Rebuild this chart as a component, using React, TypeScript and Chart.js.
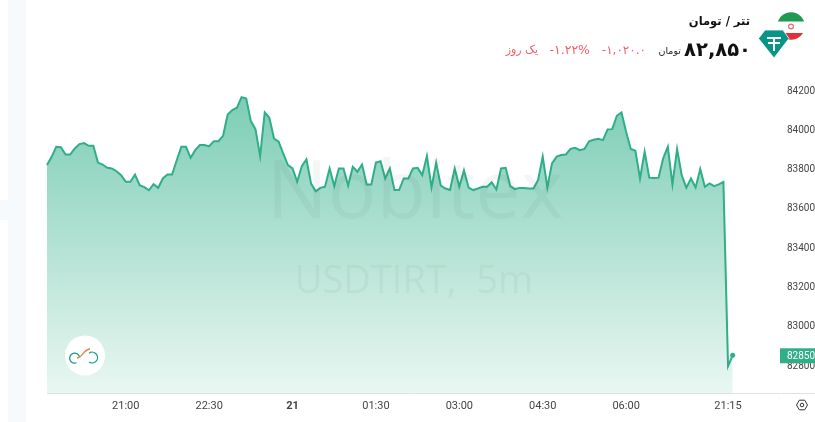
import React, { useEffect, useRef } from "react";
import { Chart, registerables } from "chart.js";

Chart.register(...registerables);

const prices = [
  83818, 83860, 83911, 83909, 83872, 83872, 83903, 83925, 83930, 83916, 83916, 83831, 83821, 83804, 83801, 83787,
  83767, 83733, 83733, 83770, 83716, 83706, 83690, 83721, 83702, 83750, 83770, 83770, 83843, 83911, 83911, 83855,
  83894, 83920, 83920, 83913, 83940, 83940, 83967, 84076, 84098, 84110, 84164, 84157, 84042, 84001, 83864, 84086,
  84059, 83953, 83937, 83877, 83818, 83801, 83733, 83813, 83848, 83724, 83685, 83702, 83708, 83801, 83711, 83801,
  83801, 83713, 83809, 83784, 83821, 83719, 83719, 83831, 83838, 83750, 83801, 83691, 83691, 83750, 83750, 83801,
  83804, 83767, 83864, 83704, 83830, 83713, 83699, 83691, 83801, 83708, 83792, 83704, 83691, 83699, 83708, 83708,
  83730, 83694, 83801, 83804, 83711, 83696, 83702, 83702, 83699, 83699, 83742, 83861, 83704, 83827, 83861, 83869,
  83872, 83901, 83906, 83894, 83900, 83939, 83947, 83952, 83945, 84000, 84001, 84069, 84086, 83988, 83900, 83891,
  83750, 83886, 83754, 83752, 83754, 83852, 83911, 83720, 83900, 83767, 83703, 83750, 83704, 83798, 83708, 83725,
  83711, 83720, 83733, 82795, 82850,
];
const slotCount = 159;
const timeLabels = ["21:00", "22:30", "21", "01:30", "03:00", "04:30", "06:00", "21:15"];
const timeSlots = [17, 35, 53, 71, 89, 107, 125, 147];
const priceTicks = [82800, 83000, 83200, 83400, 83600, 83800, 84000, 84200];
const lastPrice = 82850;
const titleText = "تتر / تومان";
const priceText = "۸۲,۸۵۰";
const unitText = "تومان";
const changeText = "-۱,۰۲۰.۰";
const percentText = "-۱.۲۲%";
const periodText = "یک روز";
const watermarkName = "Nobitex";
const watermarkSymbol = "USDTIRT,  5m";

const TEAL = "#2FAE87";
const RED = "#EF5F6B";
const FONT = "Roboto, 'Liberation Sans', sans-serif";
const WM_FONT = "'Open Sans', sans-serif";
const FA = "'DejaVu Sans', sans-serif";

const xLabels: string[] = Array.from({ length: slotCount }, () => "");
timeSlots.forEach((s, i) => { xLabels[s] = timeLabels[i]; });

const decorations = {
  id: "decorations",
  beforeDraw(chart: any) {
    const { ctx, height } = chart;
    ctx.save();
    ctx.fillStyle = "#F6FAFD";
    ctx.fillRect(8, 0, 18, height);
    ctx.fillRect(0, 200, 8, 20);
    ctx.restore();
  },
  afterDatasetsDraw(chart: any) {
    const { ctx, chartArea, scales } = chart;
    ctx.save();
    ctx.textAlign = "center";
    ctx.textBaseline = "alphabetic";
    ctx.fillStyle = "rgba(40,60,60,0.05)";
    ctx.font = `81px ${WM_FONT}`;
    ctx.fillText(watermarkName, 415, 218);
    ctx.font = `38px ${WM_FONT}`;
    ctx.fillText(watermarkSymbol, 414, 293);

    const data = chart.getDatasetMeta(0).data;
    const last = data[prices.length - 1];
    ctx.fillStyle = TEAL;
    ctx.beginPath();
    ctx.arc(last.x, last.y, 2.5, 0, Math.PI * 2);
    ctx.fill();

    const y = scales.y.getPixelForValue(lastPrice);
    ctx.fillStyle = TEAL;
    ctx.fillRect(chartArea.right + 1, y - 7, 36, 15);
    ctx.fillStyle = "#fff";
    ctx.font = `10px ${FONT}`;
    ctx.textAlign = "left";
    ctx.textBaseline = "middle";
    ctx.fillText(String(lastPrice), chartArea.right + 8, y + 1);

    ctx.strokeStyle = "#E0E0EA";
    ctx.lineWidth = 1;
    ctx.beginPath();
    ctx.moveTo(chartArea.right + 2, chartArea.bottom + 0.5);
    ctx.lineTo(815, chartArea.bottom + 0.5);
    ctx.stroke();
    ctx.restore();
  },
};

export default function App() {
  const ref = useRef<HTMLCanvasElement>(null);
  useEffect(() => {
    document.body.style.margin = "0";
    document.body.style.background = "#fff";
    const chart = new Chart(ref.current!, {
      type: "line",
      data: {
        labels: xLabels,
        datasets: [
          {
            data: prices,
            borderColor: TEAL,
            borderWidth: 2,
            pointRadius: 0,
            tension: 0,
            fill: "start",
            backgroundColor: (c: any) => {
              const area = c.chart.chartArea;
              if (!area) return "rgba(43,174,133,0.5)";
              const g = c.chart.ctx.createLinearGradient(0, area.top, 0, area.bottom);
              g.addColorStop(0, "rgba(43,174,133,0.68)");
              g.addColorStop(1, "rgba(43,174,133,0.1)");
              return g;
            },
          },
        ],
      },
      options: {
        responsive: false,
        animation: false,
        layout: { padding: { left: 47, top: 60, right: 0, bottom: 0 } },
        plugins: { legend: { display: false }, tooltip: { enabled: false } },
        scales: {
          x: {
            grid: { display: false, drawTicks: false },
            border: { display: true, color: "#E0E0EA" },
            afterFit: (s: any) => { s.height = 29; },
            ticks: {
              autoSkip: false,
              maxRotation: 0,
              padding: 7,
              color: "#444",
              font: (c: any) => ({
                family: FONT,
                size: 11,
                weight: c.tick && c.tick.label === "21" ? "bold" : "normal",
              }),
            },
          },
          y: {
            position: "right",
            min: 82658,
            max: 84353,
            grid: { display: false, drawTicks: false },
            border: { display: false },
            afterFit: (s: any) => { s.width = 36; },
            afterBuildTicks: (s: any) => { s.ticks = priceTicks.map((value) => ({ value })); },
            ticks: {
              padding: 8,
              labelOffset: 1,
              color: "#444",
              font: { family: FONT, size: 10 },
              callback: (v: any) => String(v),
            },
          },
        },
      },
      plugins: [decorations],
    } as any);
    return () => chart.destroy();
  }, []);

  const text = (right: number, top: number, size: number, color: string, weight: number | string, s: string, dir: "rtl" | "ltr" = "rtl") => (
    <span
      dir={dir}
      style={{
        position: "absolute",
        right: 815 - right,
        top,
        fontFamily: FA,
        fontSize: size,
        color,
        fontWeight: weight,
        lineHeight: 1,
        whiteSpace: "nowrap",
      }}
    >
      {s}
    </span>
  );

  return (
    <div style={{ position: "relative", width: 815, height: 422, overflow: "hidden", background: "#fff" }}>
      <canvas ref={ref} width={815} height={422} style={{ display: "block", width: 815, height: 422 }} />
      {text(750, 16, 11.5, "#111", 700, titleText)}
      {text(751, 40, 19.5, "#111", 700, priceText)}
      {text(681, 46, 9.5, "#222", 400, unitText)}
      {text(646, 44, 12, RED, 400, changeText, "ltr")}
      {text(590, 44, 12.5, RED, 400, percentText, "ltr")}
      {text(538, 44, 11, RED, 400, periodText)}

      <svg width={815} height={422} style={{ position: "absolute", left: 0, top: 0, pointerEvents: "none" }}>
        <defs>
          <clipPath id="flag"><circle cx={791} cy={26} r={13.8} /></clipPath>
        </defs>
        <g clipPath="url(#flag)">
          <rect x={776} y={12} width={32} height={9.5} fill="#1F9A50" />
          <rect x={776} y={33} width={32} height={8} fill="#E0303A" />
        </g>
        <circle cx={791} cy={26.5} r={2.4} fill="none" stroke="#E07070" strokeWidth={1.2} />
        <path d="M765 30 H783 L789 38.5 L774 58 L758.5 38.5 Z" fill="#0A9488" stroke="#fff" strokeWidth={0.8} />
        <path d="M767 38 H781 M774 38 V51 M768 43 H780" stroke="#fff" strokeWidth={2} fill="none" />

        <circle cx={85} cy={355.5} r={20} fill="#fff" />
        <path d="M79.5 357 A5 5 0 1 0 76.5 362.8" fill="none" stroke="#0F9B8E" strokeWidth={1.2} />
        <path d="M89 353.2 A5.4 5.4 0 1 1 89 362" fill="none" stroke="#0F9B8E" strokeWidth={1.2} />
        <path d="M77 358 C82 358 84 349 90 349" fill="none" stroke="#EF7A4E" strokeWidth={1.3} />

        <path d="M796.5 405 L799.3 400.2 H804.7 L807.5 405 L804.7 409.8 H799.3 Z" fill="none" stroke="#333" strokeWidth={1} />
        <circle cx={802} cy={405} r={1.8} fill="none" stroke="#333" strokeWidth={1} />
      </svg>
    </div>
  );
}
